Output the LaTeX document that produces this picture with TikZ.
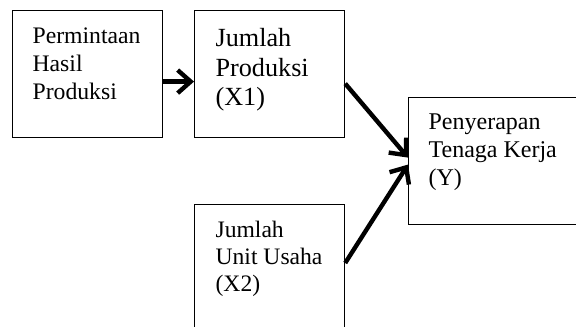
\documentclass[tikz,border=0pt]{standalone}
\usepackage{fontspec}
\setmainfont{Liberation Serif}
\usetikzlibrary{arrows.meta}
\newcommand{\boxtext}[3]{\parbox[t][#1][t]{#2}{\raggedright #3}}
\begin{document}
\begin{tikzpicture}[x=0.5pt,y=-0.5pt,
    kotak/.style={draw, line width=0.6pt, anchor=north west, inner xsep=10pt},
    panah/.style={line width=2.2pt, -{Straight Barb[length=6.5pt,width=11.5pt]}}]
    \useasboundingbox (0,0) rectangle (576,326);
    \clip (0,0) rectangle (576,326);
    \node[kotak, inner ysep=8.5pt, font=\fontsize{11.85}{14}\selectfont] (permintaan) at (12,10)
        {\boxtext{46.5pt}{55pt}{Permintaan\\Hasil\\Produksi}};
    \node[kotak, inner xsep=10.5pt, inner ysep=9pt, font=\fontsize{13.1}{14.75}\selectfont] (produksi) at (194,10)
        {\boxtext{45.5pt}{54pt}{Jumlah\\Produksi\\(X1)}};
    \node[kotak, inner ysep=8pt, font=\fontsize{12}{14}\selectfont] (tenaga) at (408,97)
        {\boxtext{47.5pt}{100pt}{Penyerapan\\Tenaga Kerja\\(Y)}};
    \node[kotak, inner xsep=10.5pt, inner ysep=8.3pt, font=\fontsize{11.8}{13.5}\selectfont] (unit) at (194,204)
        {\boxtext{53.4pt}{54pt}{Jumlah\\Unit Usaha\\(X2)}};
    \draw[panah] ([yshift=-3.75pt]permintaan.east) -- ([yshift=-3.75pt]produksi.west);
    \draw[panah] ([yshift=-4.75pt]produksi.east) -- ([yshift=1.75pt]tenaga.west);
    \draw[panah] ([yshift=-29.5pt]unit.north east) -- ([yshift=-1.75pt]tenaga.west);
\end{tikzpicture}
\end{document}
